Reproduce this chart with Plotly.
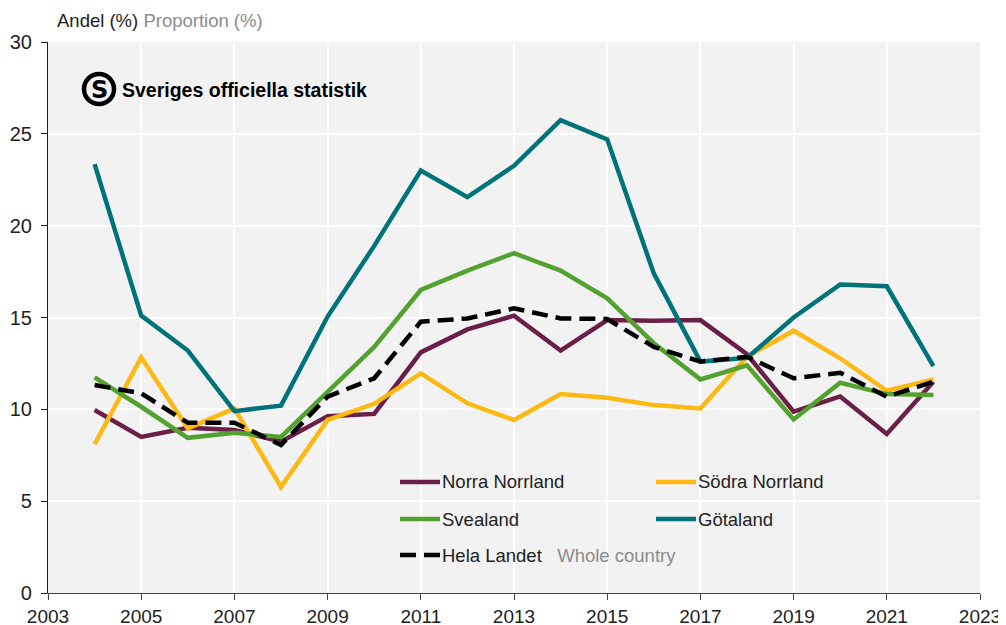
import plotly.graph_objects as go

years = list(range(2004, 2023))

norra_norrland = [9.96, 8.5, 9.0, 8.87, 8.24, 9.63, 9.75, 13.1, 14.35, 15.1, 13.2, 14.86, 14.82, 14.86, 13.0, 9.87, 10.7, 8.66, 11.5]
sodra_norrland = [8.1, 12.83, 8.96, 10.05, 5.77, 9.42, 10.3, 11.96, 10.33, 9.42, 10.83, 10.63, 10.23, 10.05, 12.86, 14.28, 12.78, 11.01, 11.63]
svealand = [11.74, 10.14, 8.45, 8.73, 8.5, 10.95, 13.4, 16.5, 17.55, 18.5, 17.55, 16.04, 13.6, 11.63, 12.4, 9.45, 11.45, 10.83, 10.78]
gotaland = [23.35, 15.1, 13.2, 9.9, 10.2, 15.05, 18.9, 23.0, 21.55, 23.26, 25.75, 24.7, 17.4, 12.6, 12.8, 15.0, 16.8, 16.7, 12.35]
hela_landet = [11.32, 10.87, 9.27, 9.27, 8.06, 10.69, 11.69, 14.77, 14.95, 15.5, 14.95, 14.92, 13.4, 12.6, 12.86, 11.69, 11.99, 10.69, 11.5]

series_names = ["Norra Norrland", "Södra Norrland", "Svealand", "Götaland", "Hela Landet"]
series_values = [norra_norrland, sodra_norrland, svealand, gotaland, hela_landet]
series_colors = ["#6a1f46", "#fdb913", "#53a22f", "#00737a", "#000000"]
series_dash = ["solid", "solid", "solid", "solid", "16px,8px"]

x_ticks = list(range(2003, 2024, 2))
y_ticks = [0, 5, 10, 15, 20, 25, 30]

W, H = 1006, 625
OFF = 8  # page body margin
# plot area in screenshot pixels
L, R, T, B = 48, 980, 42, 593

def px(x):
    return (x - L) / (R - L)

def py(y):
    return (B - y) / (B - T)

fig = go.Figure()
for i in range(5):
    fig.add_trace(go.Scatter(
        x=years, y=series_values[i], mode="lines", name=series_names[i],
        line=dict(color=series_colors[i], width=4.5, dash=series_dash[i]),
        showlegend=False, hoverinfo="skip"))

font_main = "Liberation Sans, Arial, sans-serif"

fig.update_layout(
    width=W, height=H,
    margin=dict(l=L - OFF, r=W - (R - OFF), t=T - OFF, b=H - (B - OFF), pad=0, autoexpand=False),
    paper_bgcolor="white", plot_bgcolor="#f2f2f2",
    font=dict(family=font_main, size=19, color="#222"),
    showlegend=False,
)
fig.update_xaxes(range=[2003, 2023], tickvals=x_ticks, ticktext=[str(v) for v in x_ticks],
                 automargin=False,
                 showgrid=True, gridcolor="white", gridwidth=2,
                 showline=True, linecolor="#444", linewidth=1.2,
                 ticks="outside", ticklen=6, tickcolor="#444", zeroline=False,
                 tickfont=dict(size=19, color="#222"))
fig.update_yaxes(range=[0, 30], tickvals=y_ticks, automargin=False,
                 showgrid=True, gridcolor="white", gridwidth=2,
                 showline=True, linecolor="#222", linewidth=1.2,
                 ticks="outside", ticklen=6, tickcolor="#222", zeroline=False,
                 ticklabelstandoff=5,
                 tickfont=dict(size=20, color="#222"))

annotations = []
shapes = []

# axis title
annotations.append(dict(
    xref="paper", yref="paper", x=px(55), y=py(20), xanchor="left", yanchor="middle",
    text="Andel (%) <span style='color:#8c8c8c'>Proportion (%)</span>",
    showarrow=False, font=dict(size=18.5, color="#222", family=font_main)))

# logo
shapes.append(dict(type="circle", xref="paper", yref="paper",
                   x0=px(84), x1=px(114), y0=py(104), y1=py(74),
                   line=dict(color="black", width=4.5), fillcolor="rgba(0,0,0,0)"))
annotations.append(dict(
    xref="paper", yref="paper", x=px(99), y=py(90), xanchor="center", yanchor="middle",
    text="<b>S</b>", showarrow=False,
    font=dict(size=24, color="black", family="DejaVu Sans, sans-serif")))
annotations.append(dict(
    xref="paper", yref="paper", x=px(120), y=py(90), xanchor="left", yanchor="middle",
    text="<b>Sveriges officiella statistik</b>", showarrow=False,
    font=dict(size=19.5, color="black", family=font_main)))

# manual legend
legend_pos = [(400, 482), (656, 482), (400, 519), (656, 519), (400, 555)]
for i, (lx, ly) in enumerate(legend_pos):
    shapes.append(dict(type="line", xref="paper", yref="paper",
                       x0=px(lx), x1=px(lx + 40), y0=py(ly), y1=py(ly),
                       line=dict(color=series_colors[i], width=4.5,
                                 dash=series_dash[i])))
    txt = series_names[i]
    if i == 4:
        txt = "Hela Landet&nbsp;&nbsp;&nbsp;<span style='color:#8c8c8c'>Whole country</span>"
    annotations.append(dict(
        xref="paper", yref="paper", x=px(lx + 40), y=py(ly), xanchor="left", yanchor="middle",
        text=txt, showarrow=False, font=dict(size=18.5, color="#222", family=font_main)))

fig.update_layout(annotations=annotations, shapes=shapes)
fig.write_html("out.html")
